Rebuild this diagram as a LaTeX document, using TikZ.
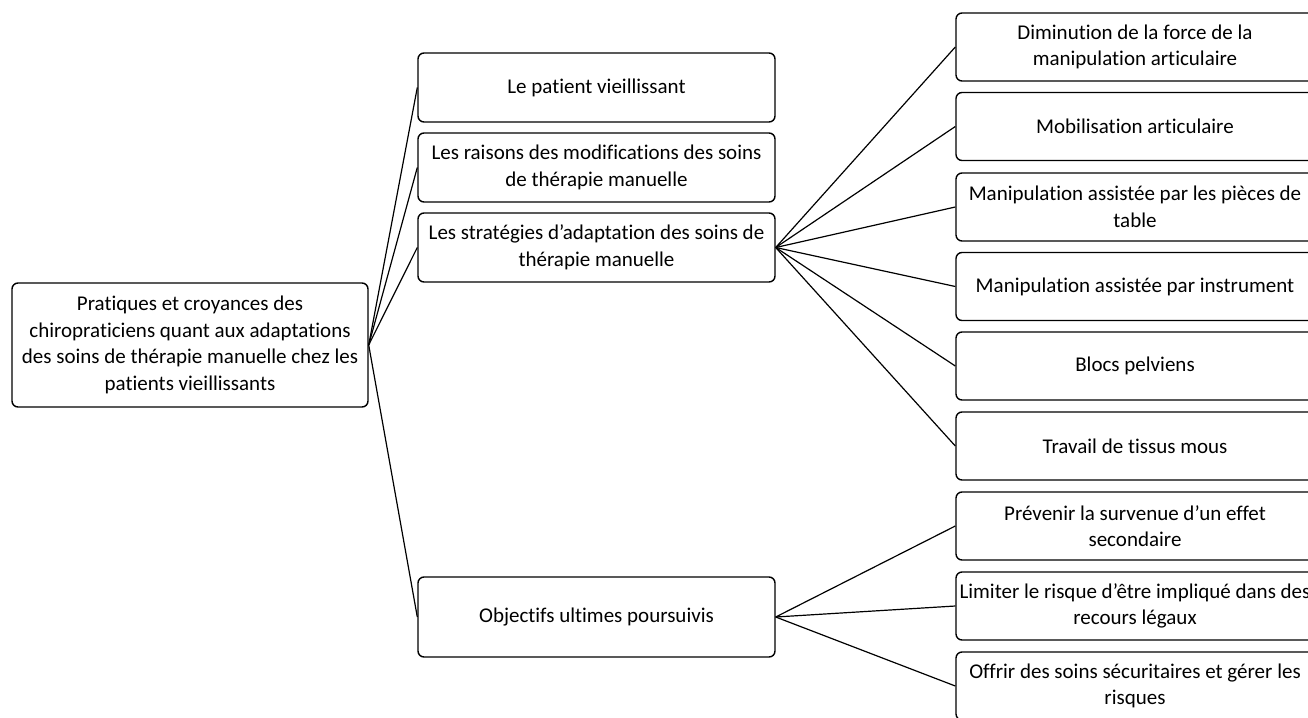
\documentclass[tikz,border=0pt]{standalone}
\usepackage{fontspec}
\setmainfont[Ligatures={NoCommon}]{Carlito}
\begin{document}
\begin{tikzpicture}[x=1pt,y=-1pt,
  box/.style={draw=black, line width=1.4pt, rounded corners=6pt, inner sep=0pt, align=center,
    font=\fontsize{21}{26.5}\selectfont, text=black},
  link/.style={draw=black, line width=1.2pt}]
\useasboundingbox (0,0) rectangle (1308,717);
\begin{scope}
\clip (0,0) rectangle (1308,717);
% root
\node[box, minimum width=356pt, minimum height=124pt] (root) at (190,345)
  {Pratiques et croyances des\\chiropraticiens quant aux adaptations\\des soins de thérapie manuelle chez les\\patients vieillissants};
% middle column
\node[box, minimum width=357pt, minimum height=69pt] (m1) at (596.5,87.5) {Le patient vieillissant};
\node[box, minimum width=357pt, minimum height=69pt] (m2) at (596.5,167.5) {Les raisons des modifications des soins\\de thérapie manuelle};
\node[box, minimum width=357pt, minimum height=69pt] (m3) at (596.5,247.5) {Les stratégies d’adaptation des soins de\\thérapie manuelle};
\node[box, minimum width=357pt, minimum height=80pt] (m4) at (596.5,617) {Objectifs ultimes poursuivis};
% right column
\node[box, minimum width=358pt, minimum height=68pt] (r1) at (1135,47) {Diminution de la force de la\\manipulation articulaire};
\node[box, minimum width=358pt, minimum height=68pt] (r2) at (1135,126.5) {Mobilisation articulaire};
\node[box, minimum width=358pt, minimum height=68pt] (r3) at (1135,207) {Manipulation assistée par les pièces de\\table};
\node[box, minimum width=358pt, minimum height=68pt] (r4) at (1135,286.5) {Manipulation assistée par instrument};
\node[box, minimum width=358pt, minimum height=68pt] (r5) at (1135,366) {Blocs pelviens};
\node[box, minimum width=358pt, minimum height=68pt] (r6) at (1135,446) {Travail de tissus mous};
\node[box, minimum width=358pt, minimum height=68pt] (r7) at (1135,526) {Prévenir la survenue d’un effet\\secondaire};
\node[box, minimum width=358pt, minimum height=68pt] (r8) at (1135,606) {Limiter le risque d’être impliqué dans des\\recours légaux};
\node[box, minimum width=358pt, minimum height=68pt] (r9) at (1135,686) {Offrir des soins sécuritaires et gérer les\\risques};
% connectors
\foreach \m in {m1,m2,m3,m4} \draw[link] (root.east) -- (\m.west);
\foreach \r in {r1,r2,r3,r4,r5,r6} \draw[link] (m3.east) -- (\r.west);
\foreach \r in {r7,r8,r9} \draw[link] (m4.east) -- (\r.west);
\end{scope}
\end{tikzpicture}
\end{document}
